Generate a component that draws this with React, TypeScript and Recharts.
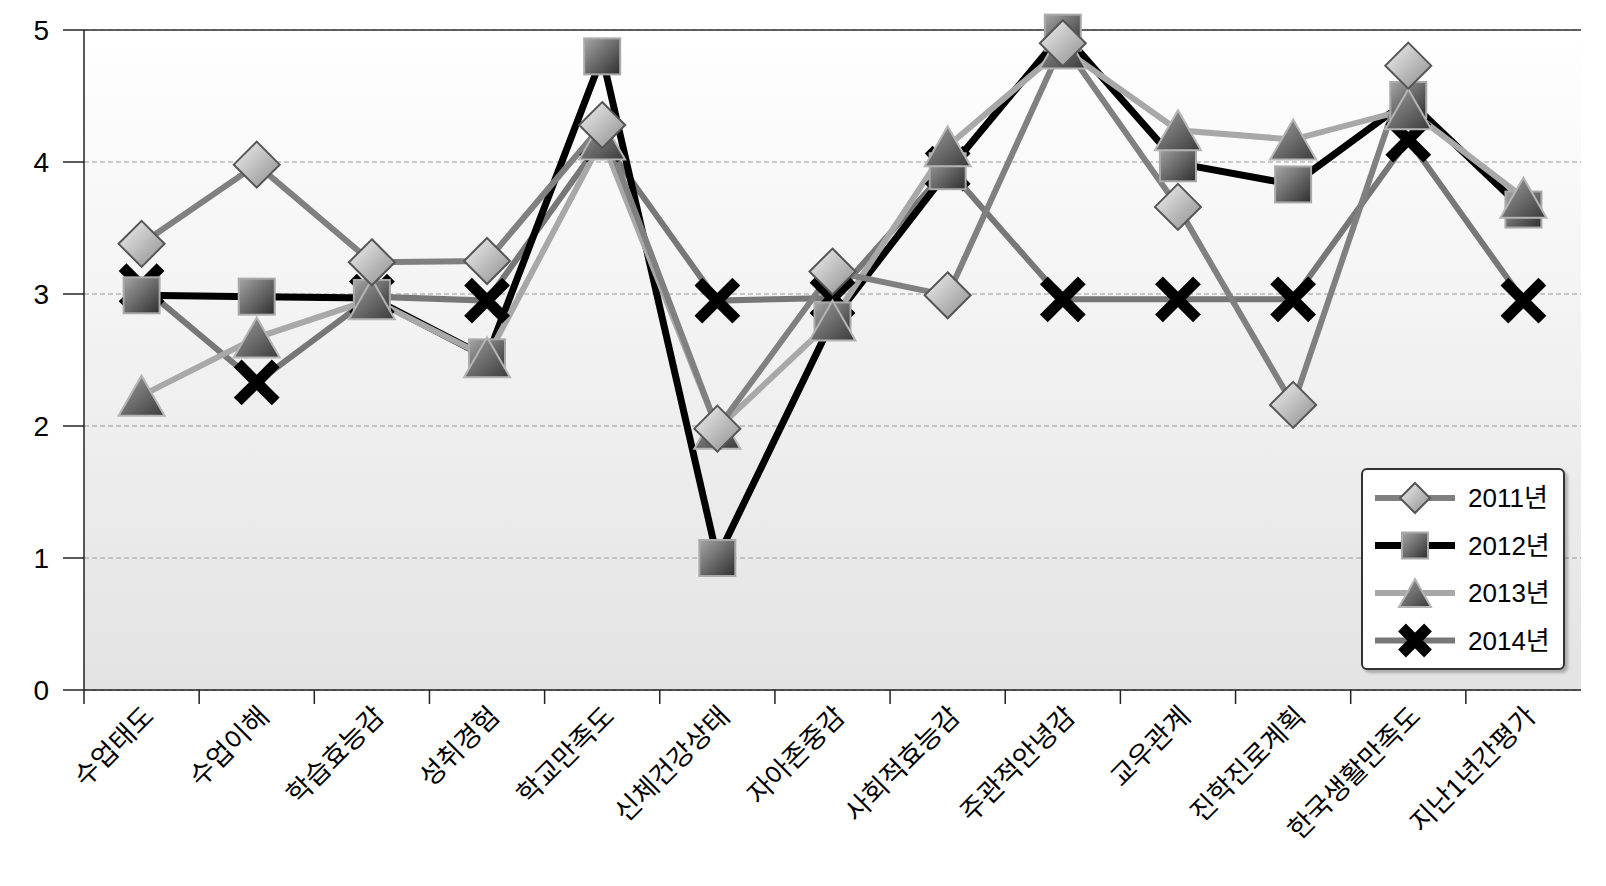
import React from 'react'
import { LineChart, Line, XAxis, YAxis, CartesianGrid, ReferenceLine } from 'recharts'

const categories = [
  '수업태도',
  '수업이해',
  '학습효능감',
  '성취경험',
  '학교만족도',
  '신체건강상태',
  '자아존중감',
  '사회적효능감',
  '주관적안녕감',
  '교우관계',
  '진학진로계획',
  '한국생활만족도',
  '지난1년간평가',
]

const y2011 = [3.38, 3.98, 3.24, 3.25, 4.28, 1.98, 3.17, 2.99, 4.9, 3.66, 2.16, 4.73, null]
const y2012 = [2.99, 2.98, 2.97, 2.52, 4.8, 1.0, 2.8, 3.93, 4.98, 3.99, 3.83, 4.47, 3.64]
const y2013 = [2.23, 2.67, 2.96, 2.52, 4.17, 1.98, 2.8, 4.12, 4.86, 4.24, 4.17, 4.4, 3.73]
const y2014 = [3.06, 2.33, 2.98, 2.95, 4.17, 2.95, 2.97, 3.95, 2.96, 2.96, 2.96, 4.17, 2.95]

const yTicks = [0, 1, 2, 3, 4, 5]
const seriesNames = ['2011년', '2012년', '2013년', '2014년']

const data = categories.map((c, i) => ({
  name: c,
  s2011: y2011[i],
  s2012: y2012[i],
  s2013: y2013[i],
  s2014: y2014[i],
}))

const W = 1606
const H = 886
const M = { top: 30, right: 25, left: 0, bottom: 0 }
const BAND = (W - 84 - M.right) / categories.length
const FONT = '"Liberation Sans", Arial, "Noto Sans CJK KR", sans-serif'

function Diamond({ cx, cy, size = 23 }: any) {
  if (cx == null || cy == null) return <g />
  return (
    <polygon
      points={`${cx},${cy - size} ${cx + size},${cy} ${cx},${cy + size} ${cx - size},${cy}`}
      fill="url(#gDiamond)"
      stroke="#555"
      strokeWidth={2}
    />
  )
}

function Square({ cx, cy, size = 18 }: any) {
  if (cx == null || cy == null) return <g />
  return (
    <rect
      x={cx - size}
      y={cy - size}
      width={size * 2}
      height={size * 2}
      fill="url(#gSquare)"
      stroke="#aaa"
      strokeWidth={2}
    />
  )
}

function Triangle({ cx, cy, size = 23 }: any) {
  if (cx == null || cy == null) return <g />
  const h = size * 1.74
  return (
    <polygon
      points={`${cx},${cy - h / 2} ${cx + size},${cy + h / 2} ${cx - size},${cy + h / 2}`}
      fill="url(#gTriangle)"
      stroke="#b5b5b5"
      strokeWidth={2}
    />
  )
}

function Cross({ cx, cy, size = 19 }: any) {
  if (cx == null || cy == null) return <g />
  return (
    <g stroke="#000" strokeWidth={11}>
      <line x1={cx - size} y1={cy - size} x2={cx + size} y2={cy + size} />
      <line x1={cx - size} y1={cy + size} x2={cx + size} y2={cy - size} />
    </g>
  )
}

function XTick({ x, y, payload }: any) {
  return (
    <g>
      <line x1={x - BAND / 2} y1={y} x2={x - BAND / 2} y2={y + 14} stroke="#222" strokeWidth={1.5} />
      <text
        x={x + 14}
        y={y + 28}
        transform={`rotate(-45 ${x + 14} ${y + 28})`}
        textAnchor="end"
        fontSize={27}
        fontFamily={FONT}
        fill="#000"
      >
        {payload.value}
      </text>
    </g>
  )
}

const legendRows = [
  { name: seriesNames[0], color: '#808080', width: 6, Mark: Diamond, size: 15 },
  { name: seriesNames[1], color: '#000', width: 7, Mark: Square, size: 13 },
  { name: seriesNames[2], color: '#a8a8a8', width: 6, Mark: Triangle, size: 16 },
  { name: seriesNames[3], color: '#777', width: 6, Mark: Cross, size: 13 },
]

function LegendBox() {
  return (
    <div
      style={{
        position: 'absolute',
        left: 1361,
        top: 468,
        width: 204,
        height: 202,
        background: '#fff',
        border: '2px solid #333',
        borderRadius: 6,
        boxShadow: '3px 3px 3px rgba(0,0,0,0.25)',
        boxSizing: 'border-box',
      }}
    >
      <svg width={200} height={198} style={{ display: 'block' }}>
        <defs>
          <linearGradient id="gDiamond" x1="0" y1="0" x2="1" y2="1">
            <stop offset="0%" stopColor="#f2f2f2" />
            <stop offset="100%" stopColor="#8c8c8c" />
          </linearGradient>
          <linearGradient id="gSquare" x1="0" y1="0" x2="1" y2="1">
            <stop offset="0%" stopColor="#a6a6a6" />
            <stop offset="100%" stopColor="#2e2e2e" />
          </linearGradient>
          <linearGradient id="gTriangle" x1="0" y1="0" x2="1" y2="1">
            <stop offset="0%" stopColor="#a0a0a0" />
            <stop offset="100%" stopColor="#3a3a3a" />
          </linearGradient>
        </defs>
        {legendRows.map((r, i) => {
          const cy = 28 + i * 47.5
          return (
            <g key={r.name}>
              <line x1={12} y1={cy} x2={92} y2={cy} stroke={r.color} strokeWidth={r.width} />
              <r.Mark cx={52} cy={cy} size={r.size} />
              <text x={105} y={cy + 9} fontSize={26} fontFamily={FONT} fill="#000">
                {r.name}
              </text>
            </g>
          )
        })}
      </svg>
    </div>
  )
}

export default function App() {
  return (
    <div style={{ position: 'absolute', left: 0, top: 0, width: W, height: H, background: '#fff' }}>
      <LineChart width={W} height={H} data={data} margin={M}>
        <defs>
          <linearGradient id="gBg" x1="0" y1="0" x2="0" y2="1">
            <stop offset="0%" stopColor="#ffffff" />
            <stop offset="100%" stopColor="#e3e3e3" />
          </linearGradient>
        </defs>
        <CartesianGrid
          vertical={false}
          stroke="#9a9a9a"
          strokeDasharray="5 3"
          fill="url(#gBg)"
          fillOpacity={1}
        />
        <XAxis
          dataKey="name"
          interval={0}
          height={H - 690}
          padding={{ left: BAND / 2, right: BAND / 2 }}
          tickSize={0}
          tickMargin={0}
          tick={<XTick />}
          axisLine={{ stroke: '#222', strokeWidth: 1.5 }}
          tickLine={false}
        />
        <YAxis
          domain={[0, 5]}
          ticks={yTicks}
          width={84}
          tickSize={21}
          tickMargin={14}
          tick={{ fontSize: 28, fontFamily: FONT, fill: '#000' }}
          axisLine={{ stroke: '#222', strokeWidth: 1.5 }}
          tickLine={{ stroke: '#222', strokeWidth: 1.5 }}
        />
        <YAxis
          yAxisId="border"
          orientation="right"
          domain={[0, 5]}
          width={0}
          tick={false}
          tickLine={false}
          axisLine={{ stroke: '#222', strokeWidth: 1.5 }}
        />
        <ReferenceLine y={5} stroke="#333" strokeWidth={1.5} />
        <Line
          dataKey="s2014"
          name={seriesNames[3]}
          stroke="#777"
          strokeWidth={6}
          dot={(p: any) => <Cross key={`x-${p.index}`} cx={p.cx} cy={p.cy} />}
          activeDot={false}
          isAnimationActive={false}
        />
        <Line
          dataKey="s2012"
          name={seriesNames[1]}
          stroke="#000"
          strokeWidth={7}
          dot={(p: any) => <Square key={`s-${p.index}`} cx={p.cx} cy={p.cy} />}
          activeDot={false}
          isAnimationActive={false}
        />
        <Line
          dataKey="s2013"
          name={seriesNames[2]}
          stroke="#a8a8a8"
          strokeWidth={6}
          dot={(p: any) => <Triangle key={`t-${p.index}`} cx={p.cx} cy={p.cy} />}
          activeDot={false}
          isAnimationActive={false}
        />
        <Line
          dataKey="s2011"
          name={seriesNames[0]}
          stroke="#808080"
          strokeWidth={6}
          dot={(p: any) => <Diamond key={`d-${p.index}`} cx={p.cx} cy={p.cy} />}
          activeDot={false}
          isAnimationActive={false}
        />
      </LineChart>
      <LegendBox />
    </div>
  )
}
